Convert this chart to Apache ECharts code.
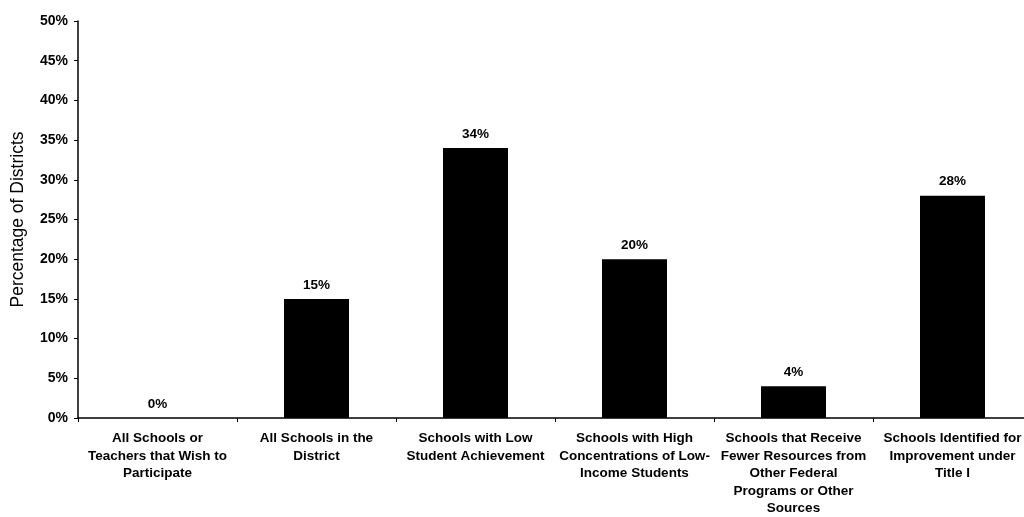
<!DOCTYPE html>
<html><head><meta charset="utf-8">
<script src="https://cdn.jsdelivr.net/npm/echarts@6/dist/echarts.min.js"></script>
<style>html,body{margin:0;padding:0;background:#fff}#c{width:1024px;height:517px}</style>
</head><body><div id="c"></div>
<script>
const categories = [
  "All Schools or\nTeachers that Wish to\nParticipate",
  "All Schools in the\nDistrict",
  "Schools with Low\nStudent Achievement",
  "Schools with High\nConcentrations of Low-\nIncome Students",
  "Schools that Receive\nFewer Resources from\nOther Federal\nPrograms or Other\nSources",
  "Schools Identified for\nImprovement under\nTitle I"
];
const values = [0, 15, 34, 20, 4, 28];
const yTicks = [0, 5, 10, 15, 20, 25, 30, 35, 40, 45, 50];

const font = 'Liberation Sans, Arial, Helvetica';
const chart = echarts.init(document.getElementById('c'));
chart.setOption({
  animation: false,
  grid: { left: 78, top: 21, width: 954, height: 397, containLabel: false, outerBoundsMode: 'none' },
  xAxis: {
    type: 'category',
    data: categories,
    axisLine: { lineStyle: { color: '#000', width: 1.5 } },
    axisTick: { show: true, length: 4, alignWithLabel: false, lineStyle: { color: '#000' } },
    axisLabel: { interval: 0, color: '#000', fontFamily: font, fontWeight: 'bold', fontSize: 13.5, lineHeight: 17.5, margin: 12 }
  },
  yAxis: {
    type: 'value',
    min: yTicks[0], max: yTicks[yTicks.length - 1], interval: 5,
    name: 'Percentage of Districts',
    nameLocation: 'middle', nameGap: 51, nameRotate: 90,
    nameTextStyle: { color: '#000', fontFamily: font, fontSize: 17.5 },
    axisLine: { show: true, lineStyle: { color: '#000', width: 1.5 } },
    axisTick: { show: true, length: 4, lineStyle: { color: '#000' } },
    splitLine: { show: false },
    axisLabel: { formatter: '{value}%', color: '#000', fontFamily: font, fontWeight: 'bold', fontSize: 14, margin: 10 }
  },
  series: [{
    type: 'bar',
    data: values,
    barWidth: 65,
    itemStyle: { color: '#000' },
    label: { show: true, position: 'top', formatter: '{c}%', color: '#000', fontFamily: font, fontWeight: 'bold', fontSize: 13.5, distance: 7 }
  }]
});
</script></body></html>
